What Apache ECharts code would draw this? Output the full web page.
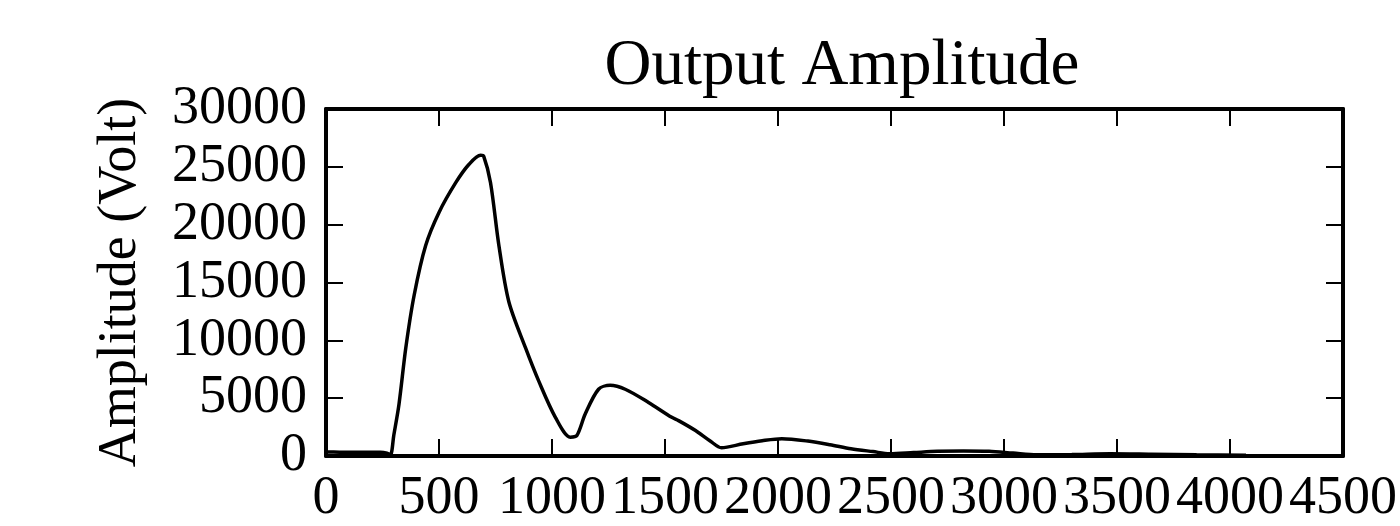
<!DOCTYPE html>
<html>
<head>
<meta charset="utf-8">
<script src="https://cdn.jsdelivr.net/npm/echarts@6/dist/echarts.min.js"></script>
<style>
html,body{margin:0;padding:0;background:#fff;}
#chart{width:1400px;height:526px;}
</style>
</head>
<body>
<div id="chart"></div>
<script>
// Frequency (x) and amplitude (y)
const xValues = [0, 60, 120, 180, 240, 270, 285, 300, 323, 353, 390, 441, 500, 574, 632, 684, 698, 728, 765, 809, 883, 941, 1015, 1081, 1110, 1147, 1206, 1257, 1324, 1427, 1530, 1560, 1635, 1700, 1750, 1846, 1930, 2017, 2132, 2230, 2323, 2420, 2494, 2600, 2705, 2820, 2934, 3040, 3145, 3300, 3470, 3650, 3852, 4071];
const yValues = [350, 330, 320, 330, 330, 250, 100, 1800, 4480, 9340, 13900, 18200, 21060, 23630, 25200, 26000, 25900, 23630, 18200, 13340, 9340, 6490, 3340, 1630, 1770, 3630, 5770, 6110, 5770, 4630, 3340, 3060, 2200, 1300, 710, 1060, 1320, 1490, 1290, 980, 630, 380, 200, 300, 400, 430, 400, 250, 110, 130, 200, 160, 110, 60];
const xTicks = [0, 500, 1000, 1500, 2000, 2500, 3000, 3500, 4000, 4500];
const yTicks = [0, 5000, 10000, 15000, 20000, 25000, 30000];
const titleText = 'Output Amplitude';
const yName = 'Amplitude (Volt)';

const serif = "'Liberation Serif', 'Times New Roman', serif";
const points = xValues.map((x, i) => [x, yValues[i]]);
const chart = echarts.init(document.getElementById('chart'), null, {renderer: 'canvas'});

const axisLine = {show: true, onZero: false, lineStyle: {color: '#000', width: 4}};
const axisTick = {show: true, inside: true, length: 17, lineStyle: {color: '#000', width: 2}};
const plain = v => String(v);

chart.setOption({
  animation: false,
  backgroundColor: '#fff',
  title: {
    text: titleText,
    left: 837, top: 29, textAlign: 'center',
    textStyle: {fontFamily: serif, fontWeight: 'normal', fontSize: 65, color: '#000'}
  },
  grid: {left: 326, right: 53, top: 109, bottom: 66, containLabel: false},
  xAxis: [
    {
      type: 'value', min: xTicks[0], max: xTicks[xTicks.length - 1], interval: 500,
      position: 'bottom', axisLine, axisTick, splitLine: {show: false},
      axisLabel: {margin: 16, color: '#000', fontFamily: serif, fontSize: 54, formatter: plain, showMinLabel: true, showMaxLabel: true, hideOverlap: false}
    },
    {
      type: 'value', min: xTicks[0], max: xTicks[xTicks.length - 1], interval: 500,
      position: 'top', axisLine, axisTick, splitLine: {show: false}, axisLabel: {show: false}
    }
  ],
  yAxis: [
    {
      type: 'value', min: yTicks[0], max: yTicks[yTicks.length - 1], interval: 5000,
      position: 'left', axisLine, axisTick, splitLine: {show: false},
      axisLabel: {margin: 19, color: '#000', fontFamily: serif, fontSize: 54, formatter: plain, showMinLabel: true, showMaxLabel: true},
      name: yName, nameLocation: 'middle', nameGap: 178,
      nameTextStyle: {fontFamily: serif, fontSize: 54, color: '#000'}
    },
    {
      type: 'value', min: yTicks[0], max: yTicks[yTicks.length - 1], interval: 5000,
      position: 'right', axisLine, axisTick, splitLine: {show: false}, axisLabel: {show: false}
    }
  ],
  series: [{
    type: 'line', data: points, showSymbol: false, smooth: 0.3,
    lineStyle: {color: '#000', width: 3.5}, xAxisIndex: 0, yAxisIndex: 0
  }]
});
</script>
</body>
</html>
